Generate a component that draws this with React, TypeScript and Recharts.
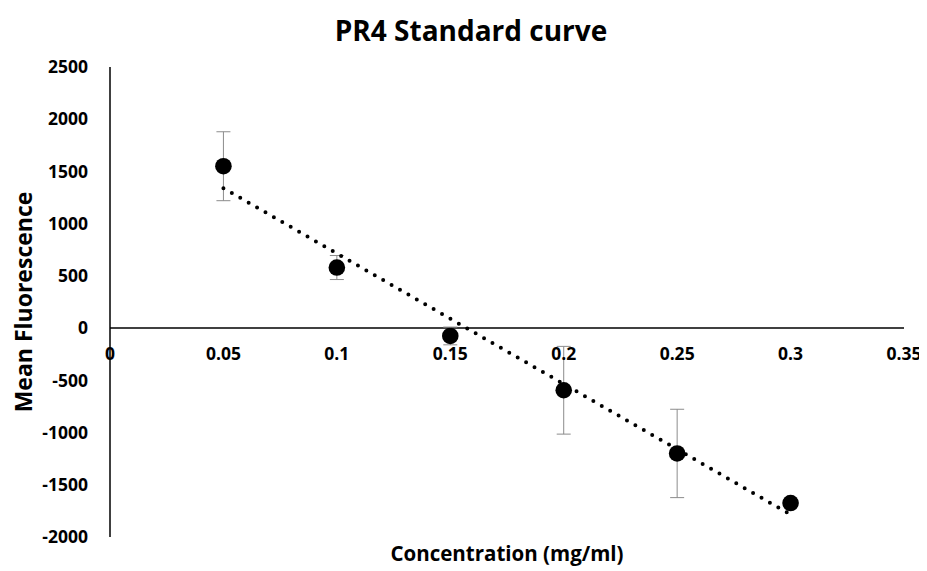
import React from 'react';
import {
  ScatterChart,
  Scatter,
  XAxis,
  YAxis,
  ErrorBar,
  ReferenceLine,
  ReferenceDot,
} from 'recharts';

const concentration = [0.05, 0.1, 0.15, 0.2, 0.25, 0.3];
const meanFluorescence = [1550, 580, -75, -595, -1200, -1675];
const errorValues = [330, 115, 85, 420, 423, 30];
const trendX = [0.05, 0.3];
const trendY = [1340, -1785];
const xTicks = [0, 0.05, 0.1, 0.15, 0.2, 0.25, 0.3, 0.35];
const yTicks = [-2000, -1500, -1000, -500, 0, 500, 1000, 1500, 2000, 2500];

const points = concentration.map((x, i) => ({ x, y: meanFluorescence[i], err: errorValues[i] }));
const trend = trendX.map((x, i) => ({ x, y: trendY[i] }));

const FONT = '"Open Sans", sans-serif';

const Marker = (p: any) => <circle cx={p.cx} cy={p.cy} r={8.3} fill="#000" />;
const NoMarker = () => <g />;

export default function App() {
  return (
    <div style={{ position: 'relative', width: 919, height: 563, marginRight: -8, fontFamily: FONT }}>
      <div
        style={{
          position: 'absolute',
          left: 0,
          top: 5,
          width: 926,
          textAlign: 'center',
          fontSize: 28,
          fontWeight: 700,
          color: '#000',
          lineHeight: '34px',
        }}
      >
        PR4 Standard curve
      </div>
      <ScatterChart
        width={919}
        height={563}
        margin={{ top: 59, right: 23, bottom: 0, left: 0 }}
      >
        <XAxis
          type="number"
          dataKey="x"
          domain={[0, 0.35]}
          ticks={xTicks}
          axisLine={false}
          tickLine={false}
          tick={false}
          height={34}
          label={{
            value: 'Concentration (mg/ml)',
            position: 'center',
            fill: '#000',
            fontSize: 20.5,
            fontWeight: 700,
            fontFamily: FONT,
          }}
        />
        <YAxis
          type="number"
          dataKey="y"
          domain={[-2000, 2500]}
          ticks={yTicks}
          width={102}
          axisLine={{ stroke: '#000', strokeWidth: 1.5 }}
          tickLine={false}
          tickMargin={16}
          tick={{ fill: '#000', fontSize: 17.5, fontWeight: 700, fontFamily: FONT }}
          label={{
            value: 'Mean Fluorescence',
            angle: -90,
            position: 'insideLeft',
            offset: 16,
            fill: '#000',
            fontSize: 23,
            fontWeight: 700,
            fontFamily: FONT,
            style: { textAnchor: 'middle' },
          }}
        />
        <ReferenceLine y={0} stroke="#000" strokeWidth={1.5} />
        {xTicks.map((t) => (
          <ReferenceDot
            key={t}
            x={t}
            y={0}
            r={0}
            fill="none"
            stroke="none"
            ifOverflow="visible"
            label={{
              value: String(t),
              position: 'bottom',
              offset: 19,
              fill: '#000',
              fontSize: 17.5,
              fontWeight: 700,
              fontFamily: FONT,
            }}
          />
        ))}
        <Scatter
          data={trend}
          dataKey="y"
          isAnimationActive={false}
          shape={NoMarker}
          line={{ stroke: '#000', strokeWidth: 4, strokeDasharray: '0 9.7', strokeLinecap: 'round' }}
        />
        <Scatter data={points} dataKey="y" isAnimationActive={false} shape={Marker}>
          <ErrorBar dataKey="err" direction="y" width={7} stroke="#8c8c8c" strokeWidth={1} isAnimationActive={false} />
        </Scatter>
      </ScatterChart>
    </div>
  );
}
